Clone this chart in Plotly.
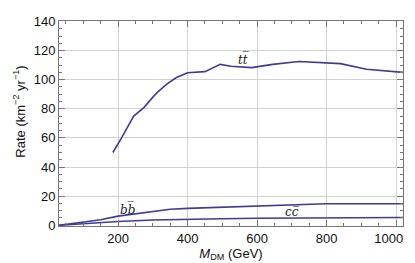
import plotly.graph_objects as go

# t tbar channel
tt_mass = [185, 210, 245, 275, 300, 313, 340, 368, 400, 450, 494, 525, 585, 645, 720, 840, 915, 1020]
tt_rate = [50, 60, 75, 81, 88, 91.3, 97, 101.5, 104.8, 105.5, 110.5, 109.2, 108.3, 110.5, 112.5, 111, 107.2, 105]

# b bbar channel
bb_mass = [30, 100, 150, 200, 250, 300, 350, 400, 500, 600, 700, 800, 1020]
bb_rate = [0, 2.0, 3.8, 6.3, 8.0, 9.8, 11.0, 11.6, 12.5, 13.0, 14.3, 14.8, 14.8]

# c cbar channel
cc_mass = [30, 100, 200, 300, 400, 500, 600, 800, 1020]
cc_rate = [0, 1.2, 2.6, 3.6, 4.2, 4.5, 4.8, 5.1, 5.3]

labels = ["t", "b", "c"]
label_x = [560, 228, 700]
label_y = [114, 11.5, 8.8]

x_ticks = [200, 400, 600, 800, 1000]
x_ticktext = ["200", "400", "600", "800", "1000\u00a0\u00a0\u00a0\u00a0"]
y_ticks = [0, 20, 40, 60, 80, 100, 120, 140]

line_color = "#3d3d99"

fig = go.Figure()
for xs, ys in [(tt_mass, tt_rate), (bb_mass, bb_rate), (cc_mass, cc_rate)]:
    fig.add_trace(go.Scatter(x=xs, y=ys, mode="lines",
                             line=dict(color=line_color, width=1.6),
                             showlegend=False, hoverinfo="skip"))

for q, x, y in zip(labels, label_x, label_y):
    txt = "<i>" + q + q + "\u0305</i>"
    fig.add_annotation(x=x, y=y, text=txt, showarrow=False,
                       font=dict(family="DejaVu Serif", size=12, color="#222"))

fig.add_annotation(xref="paper", yref="paper", x=-0.115, y=0.56,
                   text="Rate (km<sup>\u22122</sup> yr<sup>\u22121</sup>)",
                   textangle=-90, showarrow=False, xanchor="center", yanchor="middle",
                   font=dict(family="Liberation Sans", size=13, color="#111"))

axis_common = dict(
    showline=True, linecolor="#777", linewidth=1, mirror="allticks",
    ticks="inside", ticklen=6, tickcolor="#777", tickwidth=1,
    showgrid=True, gridcolor="#d2d2d2", gridwidth=1,
    zeroline=False, ticklabeloverflow="allow",
    tickfont=dict(family="Liberation Sans", size=13, color="#111"),
)

fig.update_xaxes(range=[30, 1020], tickvals=x_ticks, ticktext=x_ticktext,
                 minor=dict(dtick=50, tick0=0, ticks="inside", ticklen=3, tickcolor="#777", showgrid=False),
                 title=dict(text="<i>M</i><sub>DM</sub> (GeV)",
                            font=dict(family="Liberation Sans", size=13, color="#111"), standoff=2),
                 **axis_common)
fig.update_yaxes(range=[-0.5, 140.3], tickvals=y_ticks,
                 minor=dict(dtick=5, tick0=0, ticks="inside", ticklen=3, tickcolor="#777", showgrid=False),
                 **axis_common)

fig.update_layout(width=415, height=263,
                  margin=dict(l=51, r=6, t=6, b=45),
                  plot_bgcolor="white", paper_bgcolor="white")

fig.write_html("out.html")
